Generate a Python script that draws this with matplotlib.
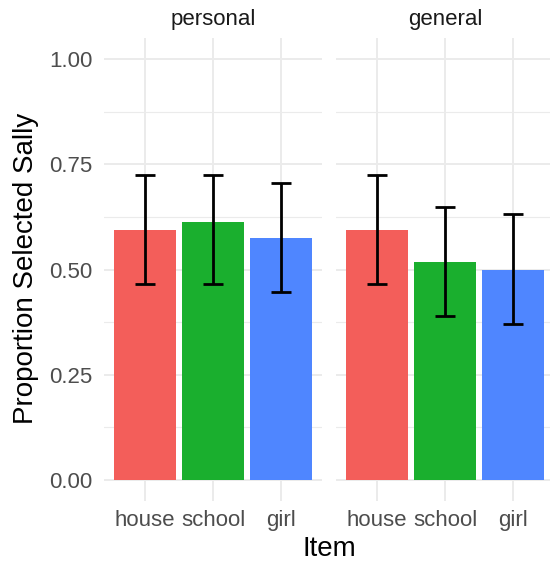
import matplotlib
matplotlib.use('Agg')
import matplotlib.pyplot as plt
import numpy as np

plt.rcParams['font.family'] = ['Liberation Sans', 'DejaVu Sans']

# data
panels = ['personal', 'general']
items = ['house', 'school', 'girl']
prop = {'personal': [0.594, 0.612, 0.576],
        'general': [0.594, 0.519, 0.500]}
err_lo = {'personal': [0.465, 0.465, 0.447],
          'general': [0.465, 0.390, 0.371]}
err_hi = {'personal': [0.724, 0.724, 0.705],
          'general': [0.724, 0.649, 0.631]}
colors = ['#F35E5A', '#1AAF2E', '#4F86FF']

W, H = 550, 565
fig = plt.figure(figsize=(W / 100, H / 100), dpi=100)

grid_col = '#EBEBEB'
lefts = [104, 336]
pw = 218
top, bottom = 38, 501

for k, p in enumerate(panels):
    ax = fig.add_axes([lefts[k] / W, 1 - bottom / H, pw / W, (bottom - top) / H])
    x = np.arange(len(items))
    vals = np.array(prop[p])
    lo = vals - np.array(err_lo[p])
    hi = np.array(err_hi[p]) - vals
    ax.bar(x, vals, width=0.9, color=colors, zorder=2)
    ax.errorbar(x, vals, yerr=[lo, hi], fmt='none', ecolor='black',
                elinewidth=2.0, capsize=7.5, capthick=2.0, zorder=3)
    ax.set_xlim(-0.6, 2.6)
    ax.set_ylim(-0.05, 1.05)
    ax.set_yticks([0, 0.25, 0.5, 0.75, 1.0])
    ax.set_yticks([0.125, 0.375, 0.625, 0.875], minor=True)
    ax.set_xticks(x)
    ax.set_xticklabels(items)
    ax.grid(True, which='major', color=grid_col, linewidth=1.4, zorder=0)
    ax.grid(True, which='minor', axis='y', color=grid_col, linewidth=0.8, zorder=0)
    ax.set_axisbelow(True)
    for s in ax.spines.values():
        s.set_visible(False)
    ax.tick_params(which='both', length=0, labelsize=16, labelcolor='#4D4D4D')
    ax.tick_params(axis='x', pad=6.5)
    ax.tick_params(axis='y', pad=8.5)
    if k == 0:
        ax.set_yticklabels(['0.00', '0.25', '0.50', '0.75', '1.00'])
    else:
        ax.tick_params(axis='y', labelleft=False)
    ax.set_title(p, fontsize=16, color='#1A1A1A', pad=9)

fig.text(26 / W, 1 - 268 / H, 'Proportion Selected Sally', rotation=90,
         ha='center', va='center', fontsize=20, color='black')
fig.text(329 / W, 1 - 549 / H, 'Item', ha='center', va='center',
         fontsize=20, color='black')

fig.savefig('out.png', dpi=100, facecolor='white')
